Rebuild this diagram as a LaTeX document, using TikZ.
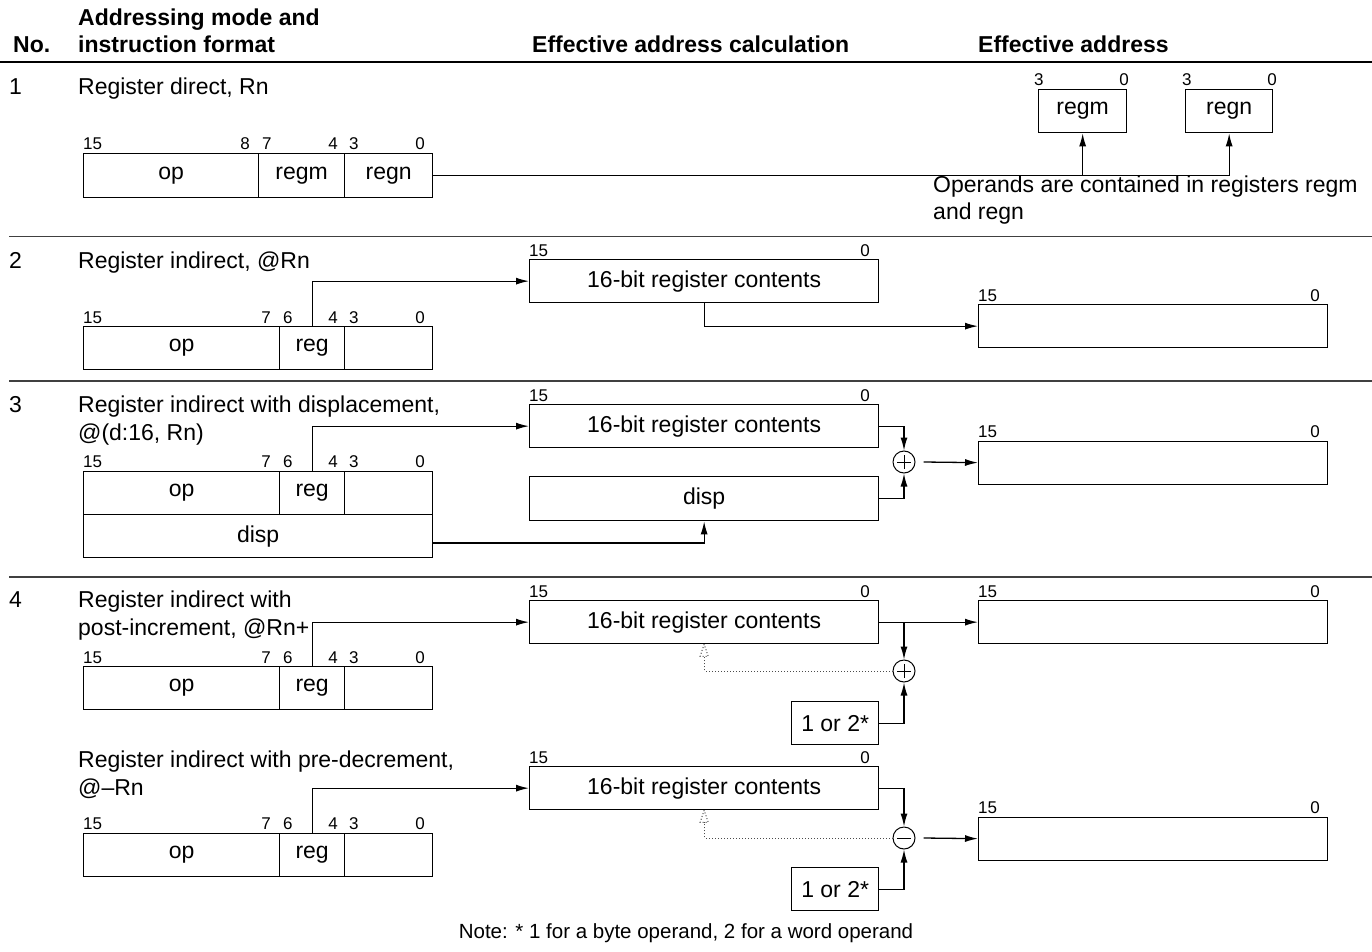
\documentclass[tikz,border=0pt]{standalone}
\usepackage{fontspec}
\setmainfont{Liberation Sans}
\usetikzlibrary{arrows.meta,calc}
\newcommand\mainfs{\fontsize{23}{28}\selectfont}
\newcommand\bitfs{\fontsize{17}{20}\selectfont}
\newcommand\notefs{\fontsize{20.5}{24}\selectfont}
\begin{document}
\begin{tikzpicture}[x=1pt,y=-1pt,
  lw/.style={line width=1.3pt},
  fld/.style={draw,lw,inner sep=0pt,anchor=north west,font=\mainfs},
  txt/.style={inner sep=0pt,anchor=base west,font=\mainfs},
  htxt/.style={inner sep=0pt,anchor=base west,font=\mainfs\bfseries},
  bit/.style={inner sep=0pt,font=\bitfs},
  bl/.style={bit,anchor=base west},
  br/.style={bit,anchor=base east},
  arr/.style={lw,-{Latex[length=13pt,width=7pt]}},
  sepline/.style={line width=1.3pt,draw=black!75},
  opc/.style={circle,draw,line width=1pt,minimum size=22pt,inner sep=0pt},
  dotl/.style={dotted,line width=1pt,draw=black!70},
]
\useasboundingbox (0,0) rectangle (1372,952);

% header
\node[htxt] (hno) at (13,53) {No.};
\node[htxt] (hm1) at (78,26) {Addressing mode and};
\node[htxt] (hm2) at (78,53) {instruction format};
\node[htxt] (hcalc) at (532,53) {Effective address calculation};
\node[htxt] (hea) at (978,53) {Effective address};
\draw[line width=1.8pt] (0,62) -- (1372,62);
\draw[sepline] (9,236.5) -- (1372,236.5);
\draw[sepline] (9,381) -- (1372,381);
\draw[sepline] (9,577) -- (1372,577);

% ---------- row 1
\node[txt] (n1) at (9,95) {1};
\node[txt] (t1) at (78,95) {Register direct, Rn};
\node[fld,minimum width=175pt,minimum height=44pt] (f1o) at (83,153) {op};
\node[fld,minimum width=86pt,minimum height=44pt] (f1m) at (258,153) {regm};
\node[fld,minimum width=88pt,minimum height=44pt] (f1n) at (344,153) {regn};
\node[bl] (b1a) at (83,150) {15};
\node[br] (b1b) at (250,150) {8};
\node[bl] (b1c) at (262,150) {7};
\node[br] (b1d) at (338,150) {4};
\node[bl] (b1e) at (349,150) {3};
\node[br] (b1f) at (425,150) {0};
\node[fld,minimum width=88pt,minimum height=43pt] (rm) at (1038,89) {regm};
\node[fld,minimum width=87pt,minimum height=43pt] (rn) at (1185,89) {regn};
\node[bl] (rmb1) at (1034,86) {3};
\node[br] (rmb2) at (1129,86) {0};
\node[bl] (rnb1) at (1182,86) {3};
\node[br] (rnb2) at (1277,86) {0};
\coordinate (k1) at (rm.south |- f1n.east);
\coordinate (k2) at (rn.south |- f1n.east);
\draw[lw] (f1n.east) -- (k2);
\draw[arr] (k1) -- (rm.south);
\draw[arr] (k2) -- (rn.south);
\node[txt] (op1) at (933,193) {Operands are contained in registers regm};
\node[txt] (op2) at (933,219) {and regn};

% ---------- row 2
\node[txt] (n2) at (9,268) {2};
\node[txt] (t2) at (78,268) {Register indirect, @Rn};
\node[fld,minimum width=196pt,minimum height=43pt] (f2o) at (83,326) {op};
\node[fld,minimum width=65pt,minimum height=43pt] (f2r) at (279,326) {reg};
\node[fld,minimum width=88pt,minimum height=43pt] (f2e) at (344,326) {};
\node[bl] (b2a) at (83,323) {15};
\node[br] (b2b) at (271,323) {7};
\node[bl] (b2c) at (283,323) {6};
\node[br] (b2d) at (338,323) {4};
\node[bl] (b2e) at (349,323) {3};
\node[br] (b2f) at (425,323) {0};
\node[fld,minimum width=349pt,minimum height=43pt] (rc2) at (529,259) {16-bit register contents};
\node[bl] (rc2a) at (529,256) {15};
\node[br] (rc2b) at (870,256) {0};
\node[fld,minimum width=349pt,minimum height=43pt] (ea2) at (978,304) {};
\node[bl] (ea2a) at (978,301) {15};
\node[br] (ea2b) at (1320,301) {0};
\draw[arr] (f2r.north) |- (rc2.west);
\draw[arr] (rc2.south) |- (ea2.west);

% ---------- row 3
\node[txt] (n3) at (9,412) {3};
\node[txt] (t3a) at (78,412) {Register indirect with displacement,};
\node[txt] (t3b) at (78,440) {@(d:16, Rn)};
\node[fld,minimum width=196pt,minimum height=43pt] (f3o) at (83,471) {op};
\node[fld,minimum width=65pt,minimum height=43pt] (f3r) at (279,471) {reg};
\node[fld,minimum width=88pt,minimum height=43pt] (f3e) at (344,471) {};
\node[fld,minimum width=349pt,minimum height=43pt] (f3d) at (83,514) {disp};
\node[bl] (b3a) at (83,467) {15};
\node[br] (b3b) at (271,467) {7};
\node[bl] (b3c) at (283,467) {6};
\node[br] (b3d) at (338,467) {4};
\node[bl] (b3e) at (349,467) {3};
\node[br] (b3f) at (425,467) {0};
\node[fld,minimum width=349pt,minimum height=43pt] (rc3) at (529,404) {16-bit register contents};
\node[bl] (rc3a) at (529,401) {15};
\node[br] (rc3b) at (870,401) {0};
\node[fld,minimum width=349pt,minimum height=44pt] (d3) at (529,476) {disp};
\node[opc] (c3) at (904,462) {};
\draw[line width=1pt] ($(c3)+(-7,0)$) -- ($(c3)+(7,0)$) ($(c3)+(0,-7)$) -- ($(c3)+(0,7)$);
\node[fld,minimum width=349pt,minimum height=43pt] (ea3) at (978,440.5) {};
\node[bl] (ea3a) at (978,437) {15};
\node[br] (ea3b) at (1320,437) {0};
\draw[arr] (f3r.north) |- (rc3.west);
\coordinate (d3s) at (432,543);
\draw[arr] (d3s) -| (d3.south);
\draw[arr] (rc3.east) -| (c3.north);
\draw[arr] (d3.east) -| (c3.south);
\draw[arr] ([xshift=8pt]c3.east) -- (ea3.west);

% ---------- row 4 (post-increment)
\node[txt] (n4) at (9,607) {4};
\node[txt] (t4a) at (78,607) {Register indirect with};
\node[txt] (t4b) at (78,635) {post-increment, @Rn+};
\node[fld,minimum width=196pt,minimum height=43pt] (f4o) at (83,666) {op};
\node[fld,minimum width=65pt,minimum height=43pt] (f4r) at (279,666) {reg};
\node[fld,minimum width=88pt,minimum height=43pt] (f4e) at (344,666) {};
\node[bl] (b4a) at (83,663) {15};
\node[br] (b4b) at (271,663) {7};
\node[bl] (b4c) at (283,663) {6};
\node[br] (b4d) at (338,663) {4};
\node[bl] (b4e) at (349,663) {3};
\node[br] (b4f) at (425,663) {0};
\node[fld,minimum width=349pt,minimum height=43pt] (rc4) at (529,600) {16-bit register contents};
\node[bl] (rc4a) at (529,597) {15};
\node[br] (rc4b) at (870,597) {0};
\node[fld,minimum width=349pt,minimum height=43pt] (ea4) at (978,600) {};
\node[bl] (ea4a) at (978,597) {15};
\node[br] (ea4b) at (1320,597) {0};
\node[opc] (c4) at (904,671) {};
\draw[line width=1pt] ($(c4)+(-7,0)$) -- ($(c4)+(7,0)$) ($(c4)+(0,-7)$) -- ($(c4)+(0,7)$);
\node[fld,minimum width=87pt,minimum height=43pt] (o4) at (791,701) {1 or 2*};
\draw[arr] (f4r.north) |- (rc4.west);
\draw[arr] (rc4.east) -- (ea4.west);
\coordinate (j4) at (c4.north |- rc4.east);
\draw[arr] (j4) -- (c4.north);
\draw[arr] (o4.east) -| (c4.south);
\coordinate (p4) at ($(rc4.south)+(0,12)$);
\draw[dotl] (c4.west) -| (p4);
\draw[dotl] (rc4.south) -- ($(p4)+(-4,0)$) -- ($(p4)+(4,0)$) -- cycle;

% ---------- pre-decrement
\node[txt] (t5a) at (78,767) {Register indirect with pre-decrement,};
\node[txt] (t5b) at (78,795) {@–Rn};
\node[fld,minimum width=196pt,minimum height=43pt] (f5o) at (83,833) {op};
\node[fld,minimum width=65pt,minimum height=43pt] (f5r) at (279,833) {reg};
\node[fld,minimum width=88pt,minimum height=43pt] (f5e) at (344,833) {};
\node[bl] (b5a) at (83,829) {15};
\node[br] (b5b) at (271,829) {7};
\node[bl] (b5c) at (283,829) {6};
\node[br] (b5d) at (338,829) {4};
\node[bl] (b5e) at (349,829) {3};
\node[br] (b5f) at (425,829) {0};
\node[fld,minimum width=349pt,minimum height=43pt] (rc5) at (529,766) {16-bit register contents};
\node[bl] (rc5a) at (529,763) {15};
\node[br] (rc5b) at (870,763) {0};
\node[fld,minimum width=349pt,minimum height=43pt] (ea5) at (978,816.5) {};
\node[bl] (ea5a) at (978,813) {15};
\node[br] (ea5b) at (1320,813) {0};
\node[opc] (c5) at (904,838) {};
\draw[line width=1pt] ($(c5)+(-7,0)$) -- ($(c5)+(7,0)$);
\node[fld,minimum width=87pt,minimum height=43pt] (o5) at (791,867) {1 or 2*};
\draw[arr] (f5r.north) |- (rc5.west);
\draw[arr] (rc5.east) -| (c5.north);
\draw[arr] (o5.east) -| (c5.south);
\draw[arr] ([xshift=8pt]c5.east) -- (ea5.west);
\coordinate (p5) at ($(rc5.south)+(0,12)$);
\draw[dotl] (c5.west) -| (p5);
\draw[dotl] (rc5.south) -- ($(p5)+(-4,0)$) -- ($(p5)+(4,0)$) -- cycle;

% note
\node[inner sep=0pt,anchor=base,font=\notefs] (note) at (686,938) {Note: * 1 for a byte operand, 2 for a word operand};
\end{tikzpicture}
\end{document}
